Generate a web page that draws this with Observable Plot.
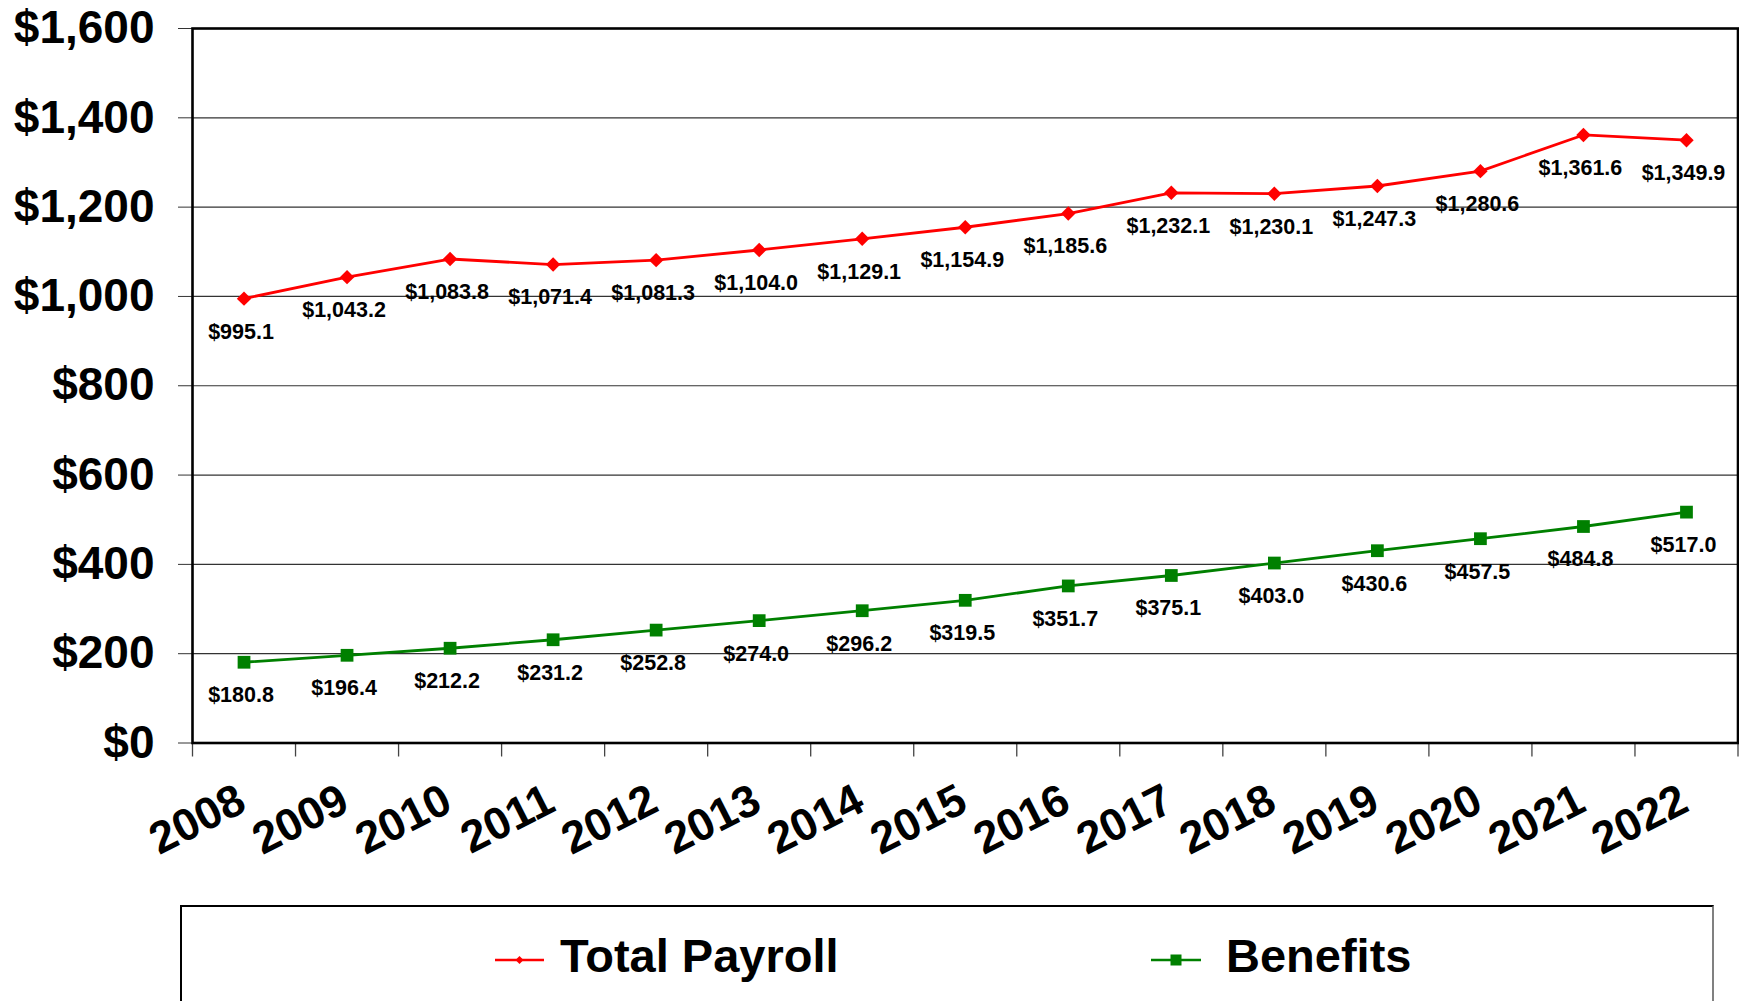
<!DOCTYPE html>
<html>
<head>
<meta charset="utf-8">
<script src="https://cdn.jsdelivr.net/npm/d3@7"></script>
<script src="https://cdn.jsdelivr.net/npm/@observablehq/plot@0.6"></script>
<style>
  html, body { margin: 0; padding: 0; background: #fff; overflow: hidden; }
  body { width: 1739px; height: 1001px; position: relative; font-family: "Liberation Sans", Arial, sans-serif; }
  #chart { position: absolute; left: 0; top: 0; }
  #legend { position: absolute; left: 180px; top: 905px; width: 1534px; height: 200px;
            border-top: 2px solid #000; border-left: 2px solid #000; border-right: 2px solid #808080; box-sizing: border-box; }
  .item { position: absolute; font-weight: bold; font-size: 47px; line-height: 47px; color: #000; white-space: nowrap; }
  .sw { position: absolute; }
</style>
</head>
<body>
<div id="chart"></div>
<div id="legend"></div>
<script>
// ---- data ----
const years = [2008, 2009, 2010, 2011, 2012, 2013, 2014, 2015, 2016, 2017, 2018, 2019, 2020, 2021, 2022];
const totalPayroll = [995.1, 1043.2, 1083.8, 1071.4, 1081.3, 1104.0, 1129.1, 1154.9, 1185.6, 1232.1, 1230.1, 1247.3, 1280.6, 1361.6, 1349.9];
const benefits = [180.8, 196.4, 212.2, 231.2, 252.8, 274.0, 296.2, 319.5, 351.7, 375.1, 403.0, 430.6, 457.5, 484.8, 517.0];
const seriesNames = ["Total Payroll", "Benefits"];
const seriesColors = ["#FF0000", "#008000"];
const yTicks = [0, 200, 400, 600, 800, 1000, 1200, 1400, 1600];

// ---- table ----
const rows = [
  ...years.map((y, i) => ({year: y, value: totalPayroll[i], series: seriesNames[0]})),
  ...years.map((y, i) => ({year: y, value: benefits[i], series: seriesNames[1]}))
];
const boundaries = [years[0] - 0.5, ...years.map(y => y + 0.5)];
const fmtVal = d3.format(",.1f");
const fmtTick = d3.format(",");

const chart = Plot.plot({
  width: 1739,
  height: 905,
  marginLeft: 192,
  marginRight: 1.5,
  marginTop: 28,
  marginBottom: 162.5,
  style: {fontFamily: "'Liberation Sans', Arial, sans-serif", background: "#fff", color: "#000"},
  x: {type: "linear", domain: [years[0] - 0.5, years[years.length - 1] + 0.5], axis: null},
  y: {domain: [0, 1600], axis: null},
  color: {domain: seriesNames, range: seriesColors},
  marks: [
    Plot.gridY(yTicks, {stroke: "#333", strokeOpacity: 1, strokeWidth: 1.2}),
    Plot.axisY(yTicks, {
      tickFormat: d => "$" + fmtTick(d), tickSize: 14, tickPadding: 24,
      fontSize: 46, fontWeight: "bold", stroke: "#333", fill: "#000", label: null
    }),
    Plot.ruleX(boundaries, {x: d => d, y1: 0, y2: 0, insetBottom: -14, stroke: "#444", strokeWidth: 1.3}),
    Plot.text(years, {
      x: d => d, text: d => String(d), frameAnchor: "bottom", dx: -2, dy: 54,
      rotate: -27, textAnchor: "end", lineAnchor: "middle",
      fontSize: 45, fontWeight: "bold", fill: "#000"
    }),
    Plot.frame({stroke: "#000", strokeWidth: 2.6}),
    Plot.line(rows, {x: "year", y: "value", z: "series", stroke: "series", strokeWidth: 2.8}),
    Plot.dot(rows, {filter: d => d.series === seriesNames[0], x: "year", y: "value", fill: "series", symbol: "diamond2", r: 6.5}),
    Plot.dot(rows, {filter: d => d.series === seriesNames[1], x: "year", y: "value", fill: "series", symbol: "square", r: 7.2}),
    Plot.text(rows, {
      x: "year", y: "value", text: d => "$" + fmtVal(d.value),
      dx: -3, dy: 33, fontSize: 21.5, fontWeight: "bold", fill: "#000"
    })
  ]
});
document.getElementById("chart").appendChild(chart);

// ---- legend (HTML, below the svg) ----
const legend = document.getElementById("legend");
const legendLayout = [
  {swX: 493, swW: 49, textX: 558, symbol: "diamond"},
  {swX: 1149, swW: 50, textX: 1224, symbol: "square"}
];
seriesNames.forEach((name, i) => {
  const L = legendLayout[i];
  const ns = "http://www.w3.org/2000/svg";
  const svg = document.createElementNS(ns, "svg");
  svg.setAttribute("width", L.swW);
  svg.setAttribute("height", 16);
  svg.setAttribute("class", "sw");
  svg.style.left = (L.swX - 180) + "px";
  svg.style.top = (958 - 8 - 905) + "px";
  const line = document.createElementNS(ns, "line");
  line.setAttribute("x1", 0); line.setAttribute("x2", L.swW);
  line.setAttribute("y1", 8); line.setAttribute("y2", 8);
  line.setAttribute("stroke", seriesColors[i]); line.setAttribute("stroke-width", 2.5);
  svg.appendChild(line);
  const c = L.swW / 2;
  if (L.symbol === "diamond") {
    const p = document.createElementNS(ns, "path");
    p.setAttribute("d", `M${c},4 L${c + 4},8 L${c},12 L${c - 4},8Z`);
    p.setAttribute("fill", seriesColors[i]);
    svg.appendChild(p);
  } else {
    const r = document.createElementNS(ns, "rect");
    r.setAttribute("x", c - 5.5); r.setAttribute("y", 2.5);
    r.setAttribute("width", 11); r.setAttribute("height", 11);
    r.setAttribute("fill", seriesColors[i]);
    svg.appendChild(r);
  }
  legend.appendChild(svg);
  const t = document.createElement("div");
  t.className = "item";
  t.textContent = name;
  t.style.left = (L.textX - 180) + "px";
  t.style.top = (930 - 905) + "px";
  legend.appendChild(t);
});
</script>
</body>
</html>
